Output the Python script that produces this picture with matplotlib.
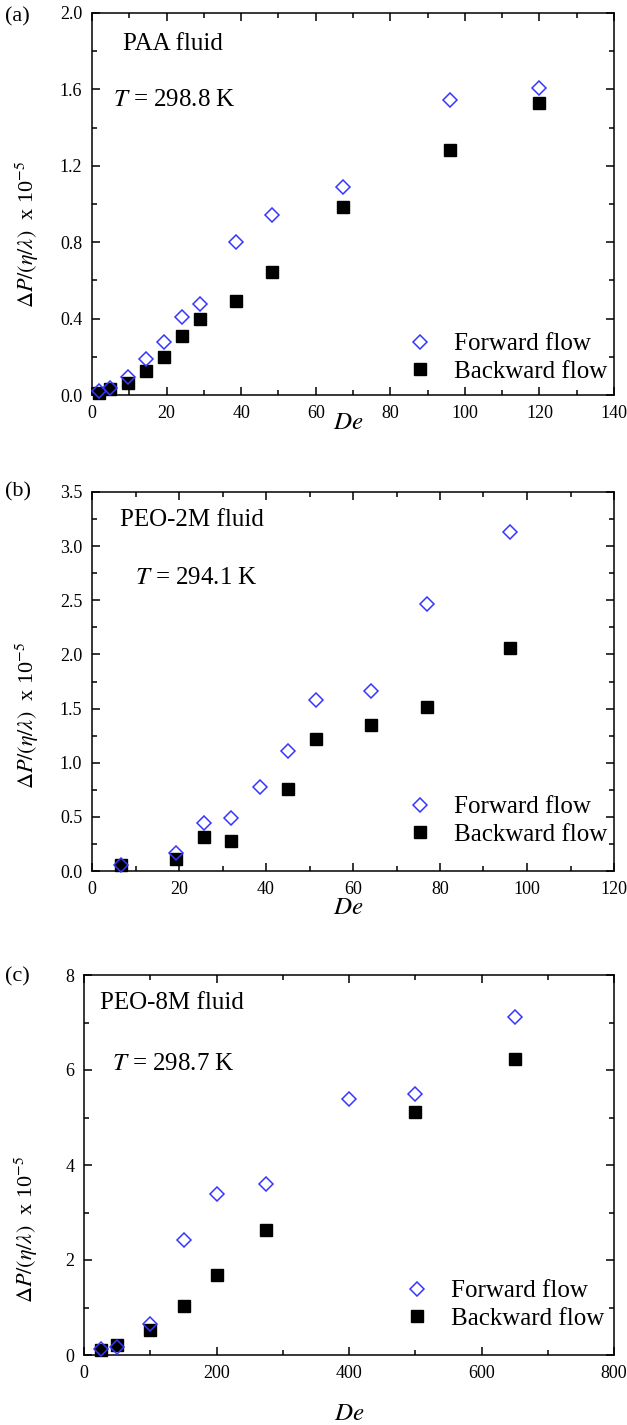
import matplotlib
matplotlib.use("Agg")
import matplotlib.pyplot as plt
from matplotlib.ticker import MultipleLocator, FormatStrFormatter

plt.rcParams['font.family'] = "Liberation Serif"
plt.rcParams['mathtext.fontset'] = "stix"
plt.rcParams['font.size'] = 14

# panel (a) PAA fluid
a_de = [1.9, 4.8, 9.6, 14.5, 19.3, 24.1, 29.0, 38.5, 48.2, 67.3, 96.0, 120.0]
a_fwd = [0.02, 0.035, 0.094, 0.19, 0.28, 0.41, 0.476, 0.80, 0.94, 1.09, 1.545, 1.606]
a_bwd = [0.012, 0.03, 0.064, 0.127, 0.20, 0.31, 0.40, 0.494, 0.642, 0.983, 1.283, 1.527]

# panel (b) PEO-2M fluid
b_de_fwd = [6.7, 19.4, 25.8, 32.0, 38.6, 45.0, 51.4, 64.1, 76.9, 96.0]
b_fwd = [0.06, 0.17, 0.44, 0.49, 0.78, 1.11, 1.58, 1.66, 2.47, 3.13]
b_de_bwd = [6.7, 19.4, 25.8, 32.0, 45.0, 51.4, 64.1, 76.9, 96.0]
b_bwd = [0.06, 0.115, 0.315, 0.28, 0.76, 1.22, 1.345, 1.51, 2.06]

# panel (c) PEO-8M fluid
c_de_fwd = [25, 50, 100, 151, 200, 275, 400, 500, 650]
c_fwd = [0.12, 0.17, 0.66, 2.42, 3.40, 3.60, 5.40, 5.49, 7.11]
c_de_bwd = [25, 50, 100, 151, 200, 275, 500, 650]
c_bwd = [0.11, 0.22, 0.53, 1.04, 1.69, 2.64, 5.12, 6.23]

blue = '#3636ff'
ylab = r'$\Delta P/(\eta/\lambda)$  x 10$^{-5}$'


def style_axis(ax, xmax, xmaj, ymax, ymaj, yfmt):
    ax.set_xlim(0, xmax)
    ax.set_ylim(0, ymax)
    ax.xaxis.set_major_locator(MultipleLocator(xmaj))
    ax.xaxis.set_minor_locator(MultipleLocator(xmaj / 2.0))
    ax.yaxis.set_major_locator(MultipleLocator(ymaj))
    ax.yaxis.set_minor_locator(MultipleLocator(ymaj / 2.0))
    ax.yaxis.set_major_formatter(FormatStrFormatter(yfmt))
    ax.tick_params(which='both', direction='in', top=True, right=True,
                   width=1.1, labelsize=13, pad=7)
    ax.tick_params(which='major', length=6)
    ax.tick_params(which='minor', length=3.5)
    for sp in ax.spines.values():
        sp.set_linewidth(1.1)


def plot_panel(ax, de_f, fwd, de_b, bwd, name, temp, leg_anchor):
    ax.plot(de_f, fwd, linestyle='none', marker='D', markersize=7,
            markerfacecolor='none', markeredgecolor=blue, markeredgewidth=1.1,
            label='Forward flow', clip_on=False, zorder=3)
    ax.plot(de_b, bwd, linestyle='none', marker='s', markersize=8,
            color='black', label='Backward flow', clip_on=False, zorder=2)
    ax.text(name[1], name[2], name[0], transform=ax.transAxes,
            fontsize=18, va='center', ha='left')
    ax.text(temp[1], temp[2], r'$T$ = ' + temp[0], transform=ax.transAxes,
            fontsize=18, va='center', ha='left')
    ax.legend(loc='lower left', bbox_to_anchor=leg_anchor, frameon=False,
              fontsize=18, handlelength=1.0, handletextpad=0.85,
              labelspacing=0.2, borderpad=0.0, borderaxespad=0.0)
    ax.set_xlabel(r'$De$', fontsize=18)
    ax.set_ylabel(ylab, fontsize=16)


fig = plt.figure(figsize=(6.27, 14.25), dpi=100)

ax1 = fig.add_axes([92/627, 1-395/1425, 522/627, 382/1425])
plot_panel(ax1, a_de, a_fwd, a_de, a_bwd, ('PAA fluid', 0.059, 0.919),
           ('298.8 K', 0.040, 0.772), (0.605, 0.032))
style_axis(ax1, 140, 20, 2.0, 0.4, '%.1f')
ax1.xaxis.set_label_coords(0.49, -0.045)
ax1.yaxis.set_label_coords(-0.098, 0.42)

ax2 = fig.add_axes([92/627, 1-871/1425, 522/627, 379/1425])
plot_panel(ax2, b_de_fwd, b_fwd, b_de_bwd, b_bwd, ('PEO-2M fluid', 0.053, 0.926),
           ('294.1 K', 0.082, 0.773), (0.605, 0.066))
style_axis(ax2, 120, 20, 3.5, 0.5, '%.1f')
ax2.xaxis.set_label_coords(0.49, -0.068)
ax2.yaxis.set_label_coords(-0.098, 0.41)

ax3 = fig.add_axes([84/627, 1-1355/1425, 530/627, 380/1425])
plot_panel(ax3, c_de_fwd, c_fwd, c_de_bwd, c_bwd, ('PEO-8M fluid', 0.030, 0.926),
           ('298.7 K', 0.053, 0.766), (0.605, 0.066))
style_axis(ax3, 800, 200, 8, 2, '%d')
ax3.xaxis.set_label_coords(0.50, -0.126)
ax3.yaxis.set_label_coords(-0.083, 0.33)

fig.text(5/627, 1-17/1425, '(a)', fontsize=16, va='center', ha='left')
fig.text(5/627, 1-492/1425, '(b)', fontsize=16, va='center', ha='left')
fig.text(5/627, 1-977/1425, '(c)', fontsize=16, va='center', ha='left')

fig.savefig('out.png', dpi=100)
